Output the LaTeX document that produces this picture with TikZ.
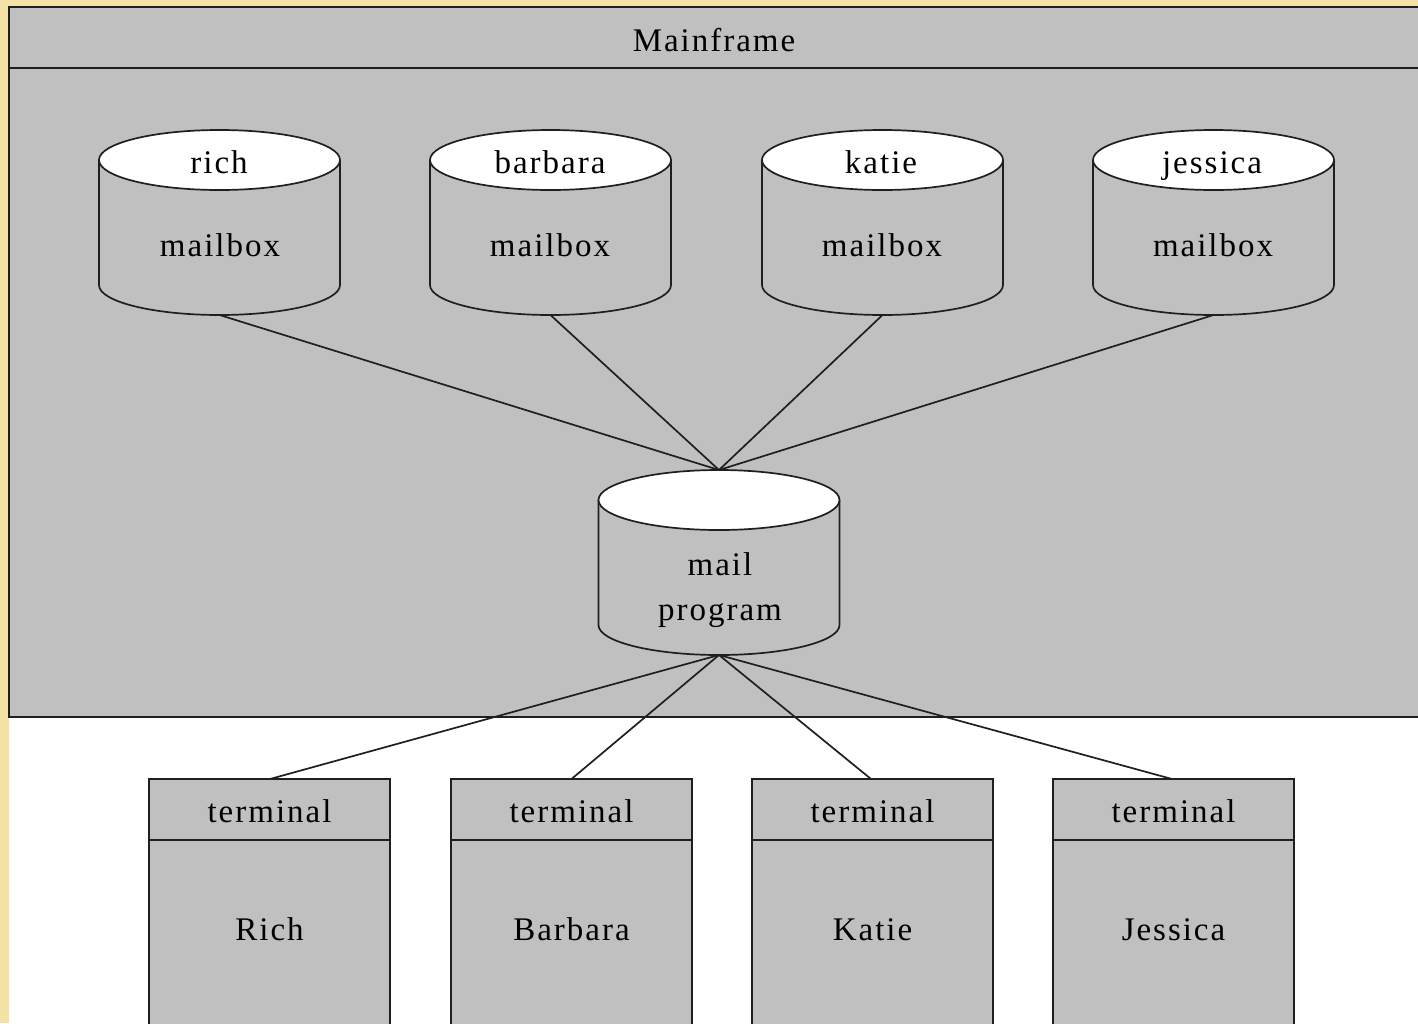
\documentclass[tikz,border=0pt]{standalone}
\usepackage{fontspec}
\setmainfont{Liberation Serif}[LetterSpace=6]
\begin{document}
\begin{tikzpicture}[x=1pt,y=-1pt,
  ln/.style={line width=1.7pt,draw=black!88},
  boxfill/.style={fill=frame},
  lbl/.style={inner sep=0pt,anchor=base,font=\fontsize{33}{38}\selectfont,text=black}]
\definecolor{frame}{HTML}{C0C0C0}
\definecolor{goldbg}{HTML}{F4E1A6}
\useasboundingbox (0,0) rectangle (1418,1023);
\clip (0,0) rectangle (1418,1023);
% page background
\fill[goldbg] (0,0) rectangle (1418,1023);
\fill[white] (9,7) rectangle (1430,1030);
% mainframe container
\filldraw[boxfill,ln] (9,7) rectangle (1430,717);
\draw[ln] (9,68) -- (1430,68);
\node[lbl] (mainframe) at (714,51) {Mainframe};

% cylinder: #1 name, #2 x centre, #3 top ellipse y, #4 bottom ellipse y, #5 half width
\newcommand{\dbcyl}[5]{%
  \fill[boxfill] (#2-#5,#3) rectangle (#2+#5,#4);
  \fill[boxfill] (#2,#4) ellipse[x radius=#5,y radius=30];
  \draw[ln] (#2-#5,#3) -- (#2-#5,#4) arc[start angle=180,end angle=0,x radius=#5,y radius=30] -- (#2+#5,#3);
  \filldraw[fill=white,ln] (#2,#3) ellipse[x radius=#5,y radius=30];
}

% connectors (drawn first, shapes sit on top)
\coordinate (richb) at (219.5,315);
\coordinate (barbarab) at (550.5,315);
\coordinate (katieb) at (882.5,315);
\coordinate (jessicab) at (1213.5,315);
\coordinate (progt) at (719,470);
\coordinate (progb) at (719,655);
\coordinate (t1) at (270,779);
\coordinate (t2) at (571.5,779);
\coordinate (t3) at (871,779);
\coordinate (t4) at (1172,779);
\foreach \m in {richb,barbarab,katieb,jessicab} \draw[ln] (\m) -- (progt);
\foreach \t in {t1,t2,t3,t4} \draw[ln] (progb) -- (\t);

% mailboxes
\dbcyl{rich}{219.5}{160}{285}{120.5}
\dbcyl{barbara}{550.5}{160}{285}{120.5}
\dbcyl{katie}{882.5}{160}{285}{120.5}
\dbcyl{jessica}{1213.5}{160}{285}{120.5}
\node[lbl] (richname) at (219,173) {rich};
\node[lbl] (barbaraname) at (550,173) {barbara};
\node[lbl] (katiename) at (881,173) {katie};
\node[lbl] (jessicaname) at (1212,173) {jessica};
\foreach \x/\n in {220/mb1,550/mb2,882/mb3,1213/mb4}
  \node[lbl] (\n) at (\x,256) {mailbox};

% mail program
\dbcyl{prog}{719}{500}{625}{120.5}
\node[lbl] (progline1) at (720,575) {mail};
\node[lbl] (progline2) at (720,620) {program};

% terminals
\foreach \x/\who/\n in {269.5/Rich/tr,571.5/Barbara/tb,872.5/Katie/tk,1173.5/Jessica/tj}{
  \filldraw[boxfill,ln] (\x-120.5,779) rectangle (\x+120.5,1040);
  \draw[ln] (\x-120.5,840) -- (\x+120.5,840);
  \node[lbl] (\n head) at (\x,822) {terminal};
  \node[lbl] (\n name) at (\x,940) {\who};
}
\end{tikzpicture}
\end{document}
